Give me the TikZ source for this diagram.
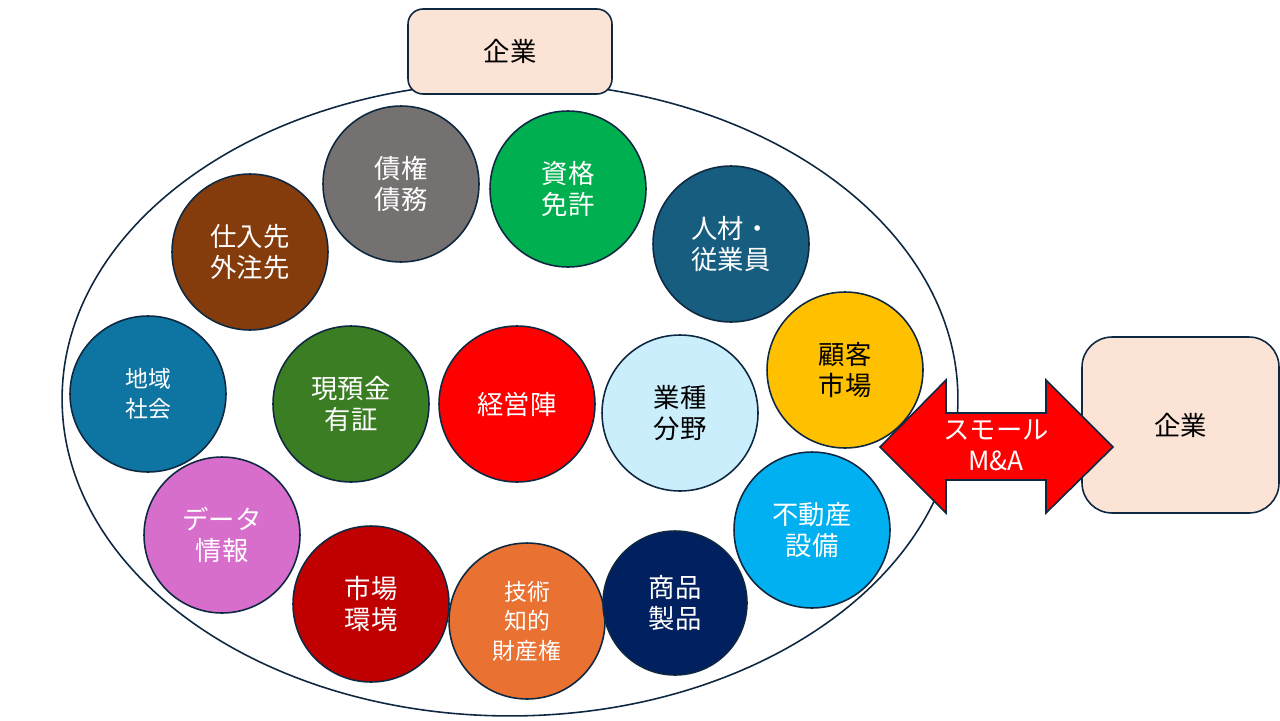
\documentclass[tikz,border=0pt]{standalone}
\usepackage{fontspec}
\setmainfont{Noto Sans CJK JP}
\usetikzlibrary{positioning}
\definecolor{edge}{HTML}{0E2841}
\definecolor{firmfill}{HTML}{FBE3D6}
\definecolor{cgray}{HTML}{767171}
\definecolor{cgreen}{HTML}{00B050}
\definecolor{cteal}{HTML}{175D80}
\definecolor{cbrown}{HTML}{843C0C}
\definecolor{cgold}{HTML}{FFC000}
\definecolor{cblue}{HTML}{0E75A2}
\definecolor{cleaf}{HTML}{3B7D23}
\definecolor{cred}{HTML}{FF0000}
\definecolor{cpale}{HTML}{CAEEFB}
\definecolor{csky}{HTML}{00B0F0}
\definecolor{cpink}{HTML}{D86ECC}
\definecolor{cdark}{HTML}{C00000}
\definecolor{corange}{HTML}{E97132}
\definecolor{cnavy}{HTML}{002060}
\begin{document}
\begin{tikzpicture}[x=0.02cm,y=-0.02cm,
    item/.style={circle, draw=edge, line width=0.9pt, minimum size=3.12cm, inner sep=0pt,
      align=center, text=white, font=\fontsize{15}{17.6}\selectfont},
    smalltext/.style={font=\fontsize{13}{16.7}\selectfont},
    firm/.style={rectangle, draw=edge, line width=0.9pt, fill=firmfill, font=\fontsize{15}{18}\selectfont}]
  \useasboundingbox (0,0) rectangle (1280,720);
  \draw[edge, line width=0.9pt] (510,399) ellipse [x radius=8.96cm, y radius=6.34cm];
  \node[firm, rounded corners=0.3cm, minimum width=4.08cm, minimum height=1.7cm] (firmtop) at (510,51.5) {企業};
  \node[item, fill=cgray] (debt) at (401,184) {債権\\債務};
  \node[item, fill=cgreen] (license) at (568,189) {資格\\免許};
  \node[item, fill=cteal] (staff) at (731,244) {人材・\\従業員};
  \node[item, fill=cbrown] (supplier) at (250,252) {仕入先\\外注先};
  \node[item, fill=cgold, text=black] (customer) at (845,370) {顧客\\市場};
  \node[item, smalltext, fill=cblue] (region) at (148,394) {地域\\社会};
  \node[item, fill=cleaf] (cash) at (351,404) {現預金\\有証};
  \node[item, fill=cred] (mgmt) at (517,404) {経営陣};
  \node[item, fill=cpale, text=black] (sector) at (680,413) {業種\\分野};
  \node[item, fill=csky] (estate) at (812,530) {不動産\\設備};
  \node[item, fill=cpink] (data) at (222,535) {データ\\情報};
  \node[item, fill=cdark] (market) at (371,604) {市場\\環境};
  \node[item, smalltext, fill=corange] (tech) at (527,621) {技術\\知的\\財産権};
  \node[item, fill=cnavy, minimum size=2.88cm] (goods) at (675,603) {商品\\製品};
  \node[firm, rounded corners=0.6cm, minimum width=3.94cm, minimum height=3.52cm] (firmright) at (1180.5,425) {企業};
  % double arrow between the two firms
  \draw[fill=cred, draw=edge, line width=0.9pt] (880,447) -- (946,380) -- (946,413) -- (1046,413)
    -- (1046,380) -- (1113,447) -- (1046,513) -- (1046,480) -- (946,480) -- (946,513) -- cycle;
  \node[align=center, text=white, inner sep=0pt, font=\fontsize{15}{17.6}\selectfont] (smallma) at (996,445) {スモール\\M\&A};
\end{tikzpicture}
\end{document}
